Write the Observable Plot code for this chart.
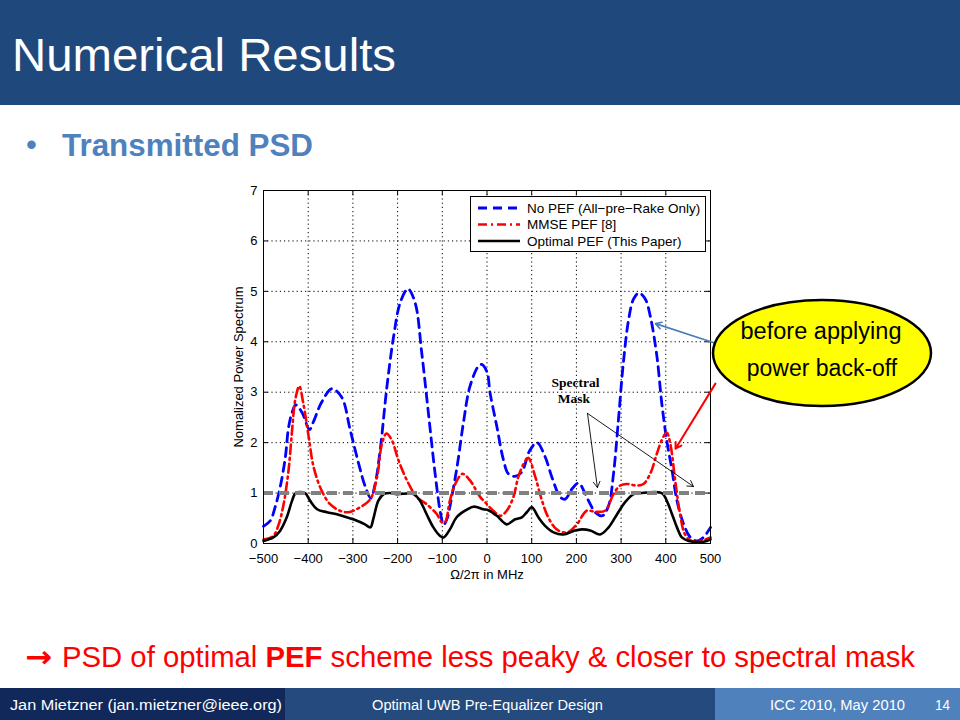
<!DOCTYPE html>
<html><head><meta charset="utf-8">
<script src="https://cdn.jsdelivr.net/npm/d3@7"></script>
<script src="https://cdn.jsdelivr.net/npm/@observablehq/plot@0.6"></script>
<style>
body{margin:0;width:960px;height:720px;position:relative;overflow:hidden;background:#fff;font-family:"Liberation Sans",Arial,sans-serif}
#bg{position:absolute;left:0;top:0}
#chart{position:absolute;left:0;top:180px}
#fg{position:absolute;left:0;top:0;pointer-events:none}
</style></head><body>
<svg id="bg" width="960" height="720" font-family="Liberation Sans, Arial, sans-serif">
  <rect x="0" y="0" width="960" height="105" fill="#1f497d"/>
  <text x="12" y="71" font-size="47" fill="#fff" textLength="384" lengthAdjust="spacingAndGlyphs">Numerical Results</text>
  <text x="26" y="155" font-size="31" fill="#4f81bd">•</text>
  <text x="62" y="156" font-size="31" font-weight="bold" fill="#4f81bd" textLength="251" lengthAdjust="spacingAndGlyphs">Transmitted PSD</text>
  <text x="25" y="667" font-size="30" font-weight="bold" fill="#ff0000" font-family="DejaVu Sans" textLength="27" lengthAdjust="spacingAndGlyphs">→</text>
  <text x="62" y="667" font-size="30" fill="#ff0000" textLength="853" lengthAdjust="spacingAndGlyphs">PSD of optimal <tspan font-weight="bold">PEF</tspan> scheme less peaky &amp; closer to spectral mask</text>
  <rect x="0" y="688" width="285" height="32" fill="#10285a"/>
  <rect x="285" y="688" width="430" height="32" fill="#244a7e"/>
  <rect x="715" y="688" width="245" height="32" fill="#4f81bd"/>
  <text x="10" y="710" font-size="14" fill="#fff" textLength="272" lengthAdjust="spacingAndGlyphs">Jan Mietzner (jan.mietzner@ieee.org)</text>
  <text x="372" y="710" font-size="14" fill="#fff" textLength="231" lengthAdjust="spacingAndGlyphs">Optimal UWB Pre-Equalizer Design</text>
  <text x="770" y="710" font-size="14" fill="#fff" textLength="135" lengthAdjust="spacingAndGlyphs">ICC 2010, May 2010</text>
  <text x="935" y="710" font-size="14" fill="#fff" textLength="15" lengthAdjust="spacingAndGlyphs">14</text>
</svg>
<div id="chart"></div>
<svg id="fg" width="960" height="720" font-family="Liberation Sans, Arial, sans-serif">
  <rect x="470.5" y="196.5" width="235" height="55" fill="#fff" stroke="#000" stroke-width="1"/>
  <line x1="478" x2="520" y1="208" y2="208" stroke="#0000ff" stroke-width="2.8" stroke-dasharray="9,6"/>
  <line x1="478" x2="520" y1="224.5" y2="224.5" stroke="#ff0000" stroke-width="2.6" stroke-dasharray="9,4,2,4"/>
  <line x1="478" x2="520" y1="241" y2="241" stroke="#000" stroke-width="2.6"/>
  <text x="527" y="212.5" font-size="13.5">No PEF (All−pre−Rake Only)</text>
  <text x="527" y="229" font-size="13.5">MMSE PEF [8]</text>
  <text x="527" y="245.5" font-size="13.5">Optimal PEF (This Paper)</text>
  <ellipse cx="822" cy="353" rx="109" ry="53" fill="#ffff00" stroke="#000" stroke-width="2.5"/>
  <text x="821" y="339" font-size="23" text-anchor="middle" textLength="161" lengthAdjust="spacingAndGlyphs">before applying</text>
  <text x="822" y="376" font-size="23" text-anchor="middle">power back-off</text>
</svg>
<script>
// ---- data ----
const xTicks = [-500,-400,-300,-200,-100,0,100,200,300,400,500];
const yTicks = [0,1,2,3,4,5,6,7];
const maskLevel = [1];

const noPefF = [-500,-485,-474,-462,-451,-444,-436,-428,-414,-397,-389,-370,-347,-325,-306,-287,-272,-260,-250,-239,-224,-209,-194,-177,-161,-146,-131,-116,-104,-97,-89,-82,-67,-53,-38,-19,-12,0,7,22,37,48,63,78,96,112,130,145,164,175,190,205,220,231,242,258,272,283,294,305,317,328,340,354,365,380,391,402,414,425,440,455,470,484,500];
const noPefV = [0.34,0.45,0.72,1.15,1.72,2.3,2.6,2.75,2.6,2.26,2.4,2.8,3.07,2.9,2.25,1.58,1.12,0.9,1.19,1.85,3.1,4.1,4.78,5.05,4.78,3.78,2.58,1.38,0.6,0.37,0.5,0.78,1.52,2.38,3.12,3.52,3.55,3.4,2.98,2.32,1.65,1.38,1.33,1.42,1.85,2.0,1.72,1.32,0.92,0.88,1.08,1.2,0.98,0.78,0.62,0.55,0.75,1.38,2.45,3.58,4.45,4.85,4.97,4.85,4.52,3.72,2.78,2.05,1.45,0.85,0.38,0.12,0.05,0.12,0.32];

const mmseF = [-500,-478,-466,-455,-444,-436,-429,-420,-411,-399,-388,-370,-351,-329,-310,-284,-261,-246,-235,-225,-213,-198,-179,-157,-135,-112,-101,-94,-83,-71,-55,-38,-15,0,14,30,44,59,70,82,92,108,123,137,156,179,201,223,242,264,283,298,313,335,350,365,380,391,402,410,421,432,443,458,477,500];
const mmseV = [0.08,0.15,0.38,0.78,1.45,2.25,2.85,3.12,2.78,2.12,1.52,1.05,0.78,0.65,0.62,0.72,0.88,1.32,1.98,2.18,2.05,1.65,1.25,0.92,0.78,0.58,0.42,0.42,0.85,1.18,1.38,1.25,0.92,0.78,0.65,0.55,0.65,0.92,1.32,1.58,1.7,1.32,0.85,0.52,0.28,0.22,0.38,0.65,0.63,0.65,0.98,1.15,1.18,1.15,1.18,1.38,1.78,2.05,2.2,1.98,1.25,0.58,0.18,0.05,0.05,0.12];

const optF = [-500,-478,-463,-448,-436,-428,-407,-396,-380,-358,-336,-314,-291,-273,-261,-254,-243,-231,-217,-202,-164,-150,-135,-120,-105,-97,-83,-68,-49,-30,-8,3,22,44,63,78,89,100,115,130,149,171,194,212,231,253,272,291,309,328,343,391,402,414,425,436,451,477,492,500];
const optV = [0.05,0.12,0.25,0.52,0.85,1.0,1.0,0.85,0.68,0.62,0.58,0.52,0.45,0.38,0.32,0.5,0.85,0.98,1.0,0.98,0.98,0.85,0.58,0.32,0.15,0.12,0.28,0.52,0.65,0.73,0.68,0.66,0.55,0.38,0.48,0.52,0.62,0.72,0.52,0.35,0.22,0.18,0.25,0.28,0.26,0.18,0.32,0.58,0.82,0.98,1.0,1.0,0.85,0.58,0.32,0.12,0.05,0.03,0.05,0.08];

// annotations (data units)
const arrowsNote = [
  {x1: 511, y1: 3.97, x2: 377, y2: 4.36, c: "#4a7ebb", w: 1.6},
  {x1: 511, y1: 3.17, x2: 421.7, y2: 1.88, c: "#ff0000", w: 2},
  {x1: 224.8, y1: 2.58, x2: 247, y2: 1.11, c: "#000", w: 0.9},
  {x1: 224.8, y1: 2.58, x2: 462, y2: 1.13, c: "#000", w: 0.9}
];
const maskNote = [{x: 198, y: 3.19, t: "Spectral"}, {x: 194.6, y: 2.88, t: "Mask"}];

const toRows = (F, V) => F.map((f, i) => ({f, v: V[i]}));
const noPef = toRows(noPefF, noPefV);
const mmse = toRows(mmseF, mmseV);
const opt = toRows(optF, optV);

const fmt = d3.format("d");
const chart = Plot.plot({
  width: 960, height: 400,
  marginLeft: 263, marginRight: 250, marginTop: 10, marginBottom: 37,
  style: {fontFamily: "Liberation Sans, Arial, sans-serif", fontSize: "13px", color: "#000", background: "transparent", overflow: "visible"},
  x: {domain: [-500, 500]},
  y: {domain: [0, 7]},
  marks: [
    Plot.gridX(xTicks, {stroke: "#000", strokeOpacity: 1, strokeWidth: 1, strokeDasharray: "1.2,3"}),
    Plot.gridY(yTicks, {stroke: "#000", strokeOpacity: 1, strokeWidth: 1, strokeDasharray: "1.2,3"}),
    Plot.axisX(xTicks, {tickSize: 0, tickPadding: 10, fontSize: 13, tickFormat: fmt, label: "Ω/2π in MHz", labelAnchor: "center", labelOffset: 35, labelArrow: "none"}),
    Plot.axisY(yTicks, {tickSize: 0, tickPadding: 6, fontSize: 13, tickFormat: fmt, label: "Nomalized Power Spectrum", labelAnchor: "center", labelOffset: 30, labelArrow: "none"}),
    Plot.ruleX(xTicks, {x: d => d, y1: 0, y2: 0.1, stroke: "#000"}),
    Plot.ruleX(xTicks, {x: d => d, y1: 6.9, y2: 7, stroke: "#000"}),
    Plot.ruleY(yTicks, {y: d => d, x1: -500, x2: -489, stroke: "#000"}),
    Plot.ruleY(yTicks, {y: d => d, x1: 489, x2: 500, stroke: "#000"}),
    Plot.line(noPef, {x: "f", y: "v", stroke: "#0000ff", strokeWidth: 2.8, strokeDasharray: "9,6", curve: "catmull-rom"}),
    Plot.line(mmse, {x: "f", y: "v", stroke: "#ff0000", strokeWidth: 2.6, strokeDasharray: "9,4,2,4", curve: "catmull-rom"}),
    Plot.line(opt, {x: "f", y: "v", stroke: "#000", strokeWidth: 2.6, curve: "catmull-rom"}),
    Plot.ruleY(maskLevel, {stroke: "#808080", strokeWidth: 4, strokeDasharray: "10,6"}),
    Plot.frame({stroke: "#000", strokeWidth: 1}),
    Plot.arrow(arrowsNote, {x1: "x1", y1: "y1", x2: "x2", y2: "y2", stroke: d => d.c, strokeWidth: d => d.w, headLength: 10}),
    Plot.text(maskNote, {x: "x", y: "y", text: "t", fontFamily: "Liberation Serif, Times New Roman, serif", fontWeight: "bold", fontSize: 13.5, fill: "#000"})
  ]
});
document.getElementById("chart").appendChild(chart);
</script>
</body></html>
